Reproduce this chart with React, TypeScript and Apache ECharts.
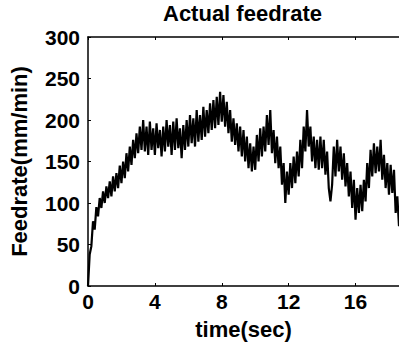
import React, { useEffect, useRef } from "react";
import * as echarts from "echarts";

const titleText = "Actual feedrate";
const xName = "time(sec)";
const yName = "Feedrate(mm/min)";
const sampleStep = 0.1; // seconds between samples
const xTicks = [0, 4, 8, 12, 16];
const xEnd = 18.6;
const yTicks = [0, 50, 100, 150, 200, 250, 300];

// Feedrate samples (mm/min), one every 0.1 s
const feedrate = [
  0, 38, 48, 78, 68, 95, 84, 106, 94, 114,
  100, 120, 106, 126, 108, 132, 114, 136, 118, 145,
  124, 150, 130, 160, 138, 168, 146, 176, 154, 184,
  160, 192, 164, 200, 162, 192, 158, 198, 164, 190,
  158, 196, 166, 188, 156, 192, 162, 200, 168, 194,
  158, 198, 164, 202, 166, 190, 154, 194, 164, 200,
  168, 206, 172, 202, 168, 212, 174, 206, 176, 216,
  180, 212, 184, 220, 188, 224, 190, 228, 194, 234,
  198, 230, 192, 222, 184, 212, 174, 202, 170, 196,
  162, 192, 156, 188, 150, 180, 142, 172, 138, 168,
  140, 182, 150, 190, 156, 192, 162, 206, 170, 212,
  160, 188, 148, 180, 142, 168, 122, 148, 100, 138,
  110, 148, 118, 156, 124, 162, 132, 176, 142, 192,
  162, 212, 168, 192, 150, 180, 142, 176, 140, 180,
  142, 176, 134, 162, 118, 102, 122, 168, 132, 176,
  138, 168, 128, 160, 120, 148, 108, 138, 94, 128,
  80, 118, 88, 122, 90, 128, 102, 148, 118, 164,
  132, 172, 136, 168, 138, 176, 128, 158, 118, 148,
  110, 146, 112, 140, 88, 108, 72,
];

const FONT = '"Liberation Sans", Arial, sans-serif';

export default function App() {
  const ref = useRef<HTMLDivElement>(null);
  useEffect(() => {
    if (!ref.current) return;
    const chart = echarts.init(ref.current, undefined, { renderer: "svg" });
    const data = feedrate.map((v, i) => [Number((i * sampleStep).toFixed(1)), v]);
    const xMin = xTicks[0];
    const yMin = yTicks[0];
    const yMax = yTicks[yTicks.length - 1];
    const axisLine = { show: true, lineStyle: { color: "#000", width: 1.5 } };
    const tick = { show: true, inside: true, length: 3, lineStyle: { color: "#000" } };
    const labelStyle = {
      color: "#000",
      fontFamily: FONT,
      fontWeight: "bold" as const,
      fontSize: 21,
    };
    chart.setOption({
      animation: false,
      backgroundColor: "#fff",
      title: {
        text: titleText,
        left: 163,
        top: 2,
        padding: 0,
        textStyle: { color: "#000", fontFamily: FONT, fontWeight: "bold", fontSize: 22 },
      },
      grid: { left: 85, top: 37, bottom: 58, right: 0, containLabel: false },
      xAxis: [
        {
          type: "value",
          min: xMin,
          max: xEnd,
          interval: xTicks[1] - xTicks[0],
          name: xName,
          nameLocation: "middle",
          nameGap: 32,
          nameTextStyle: { ...labelStyle, fontSize: 22 },
          axisLine,
          axisTick: tick,
          splitLine: { show: false },
          axisLabel: {
            ...labelStyle,
            margin: 5,
            showMaxLabel: false,
            formatter: (v: number) => (xTicks.includes(v) ? String(v) : ""),
          },
        },
        {
          type: "value",
          position: "top",
          min: xMin,
          max: xEnd,
          interval: xTicks[1] - xTicks[0],
          axisLine,
          axisTick: tick,
          splitLine: { show: false },
          axisLabel: { show: false },
        },
      ],
      yAxis: {
        type: "value",
        min: yMin,
        max: yMax,
        interval: yTicks[1] - yTicks[0],
        name: yName,
        nameLocation: "middle",
        nameGap: 58,
        nameTextStyle: { ...labelStyle, fontSize: 22 },
        axisLine,
        axisTick: tick,
        splitLine: { show: false },
        axisLabel: { ...labelStyle, margin: 8 },
      },
      series: [
        {
          type: "line",
          data,
          showSymbol: false,
          symbol: "none",
          clip: true,
          lineStyle: { color: "#000", width: 2.2 },
          xAxisIndex: 0,
        },
      ],
    });
    return () => chart.dispose();
  }, []);
  return (
    <div
      ref={ref}
      style={{ position: "fixed", left: 0, top: 0, width: 399, height: 345 }}
    />
  );
}
